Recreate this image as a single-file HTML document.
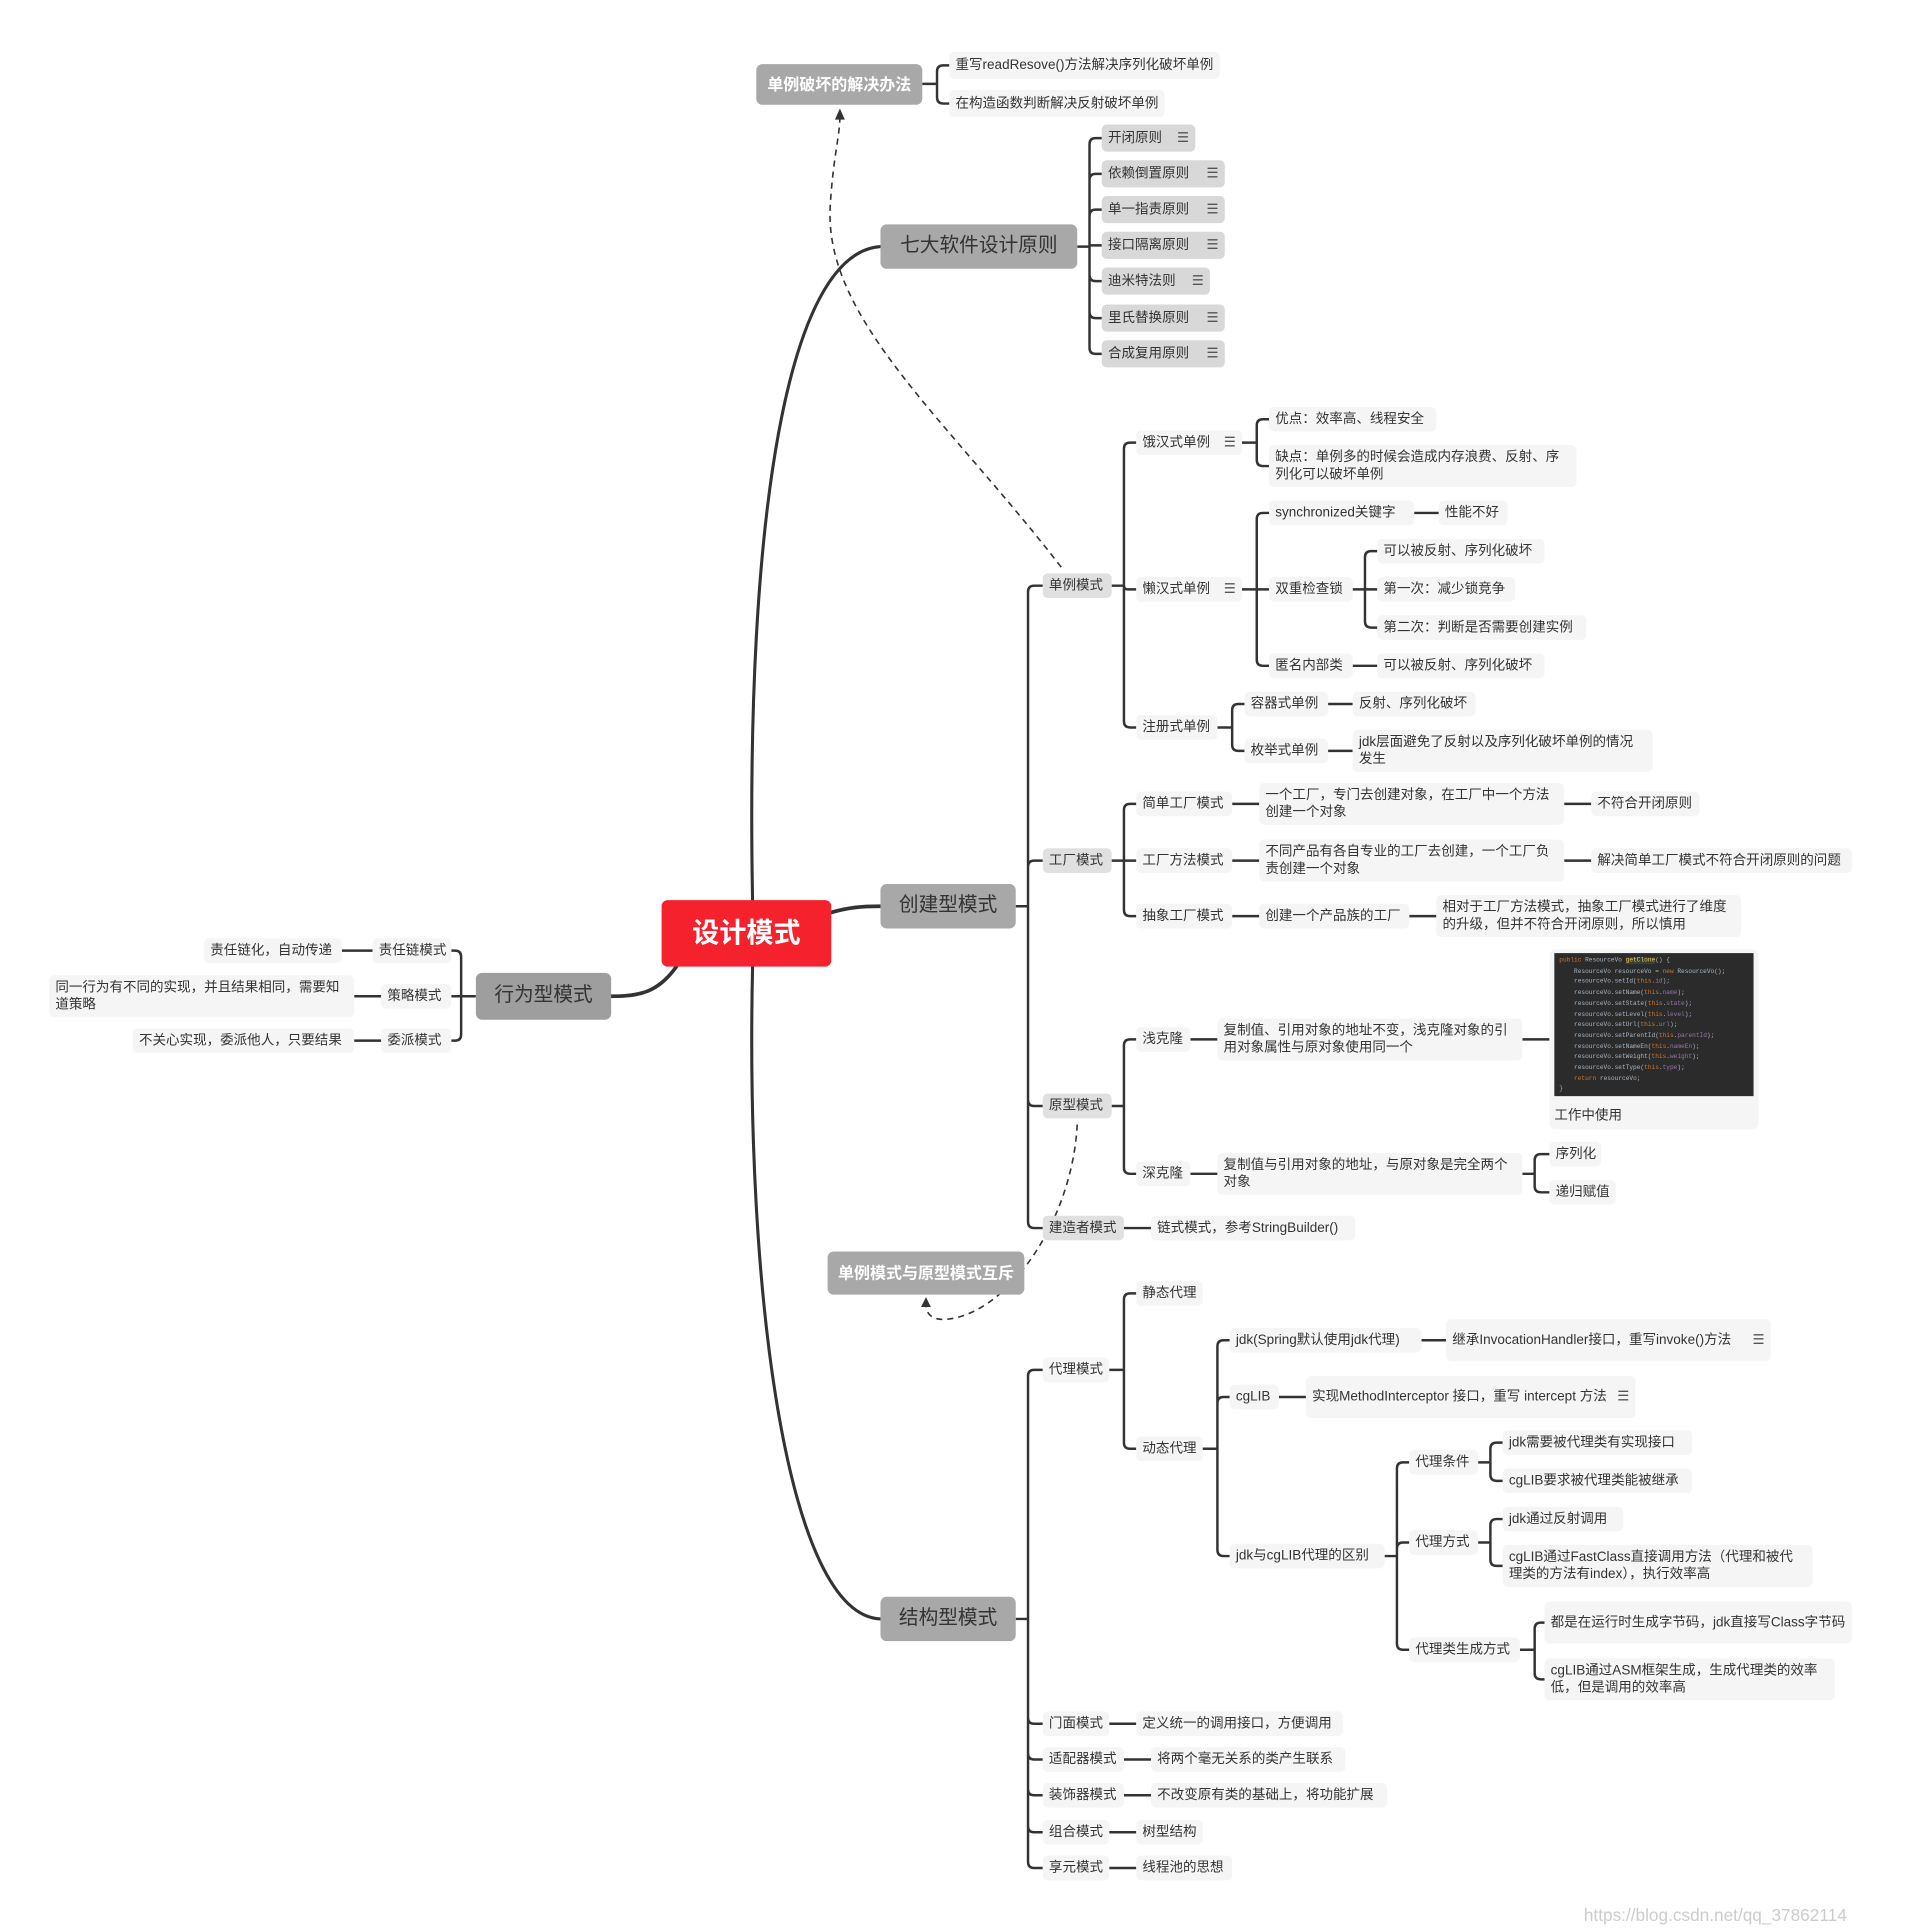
<!DOCTYPE html>
<html><head><meta charset="utf-8"><style>
html,body{margin:0;padding:0;background:#fff;}
#root{position:absolute;left:0;top:0;width:1550px;height:1566px;transform-origin:0 0;transform:scale(1.2297,1.2330);font-family:"Liberation Sans","Noto Sans CJK SC",sans-serif;}
.n{position:absolute;display:flex;align-items:center;padding:0 5px;font-size:11px;color:#333;border-radius:4px;box-sizing:border-box;line-height:14px;white-space:nowrap;}
.l{background:#f5f5f5}
.m{background:#e0e0e0}
.p{background:#d8d8d8}
.w{white-space:normal}
.big{background:#a8a8a8;color:#333;font-size:16px;justify-content:center;border-radius:5px}
.hb{background:#a8a8a8;color:#fff;font-weight:bold;font-size:13px;justify-content:center;border-radius:5px}
.ic{margin-left:auto;padding-left:6px;font-size:11px;color:#555}
.code{position:absolute;background:#2b2b2b;font-family:"Liberation Mono",monospace;font-size:5px;line-height:8.7px;color:#a9b7c6;padding:2px 4px;box-sizing:border-box;white-space:pre;overflow:hidden}
.k{color:#cc7832}.f{color:#ffc66d;background:#344134}.v{color:#9876aa}
</style></head><body><div id="root">
<svg id="sv" width="1550" height="1566" style="position:absolute;left:0;top:0">
<g fill="none" stroke="#333" stroke-linecap="round">
<path d="M612,730 C606,420 640,205 716,200" stroke-width="2.5"/>
<path d="M612,784 C606,1050 640,1310 716,1313" stroke-width="2.5"/>
<path d="M676,740 C690,736 700,735 716,735" stroke-width="3"/>
<path d="M550,784 C535,805 520,808 497,808" stroke-width="3"/>
</g>
<g fill="none" stroke="#333" stroke-width="1.3" stroke-dasharray="5,4">
<path d="M863,460 C770,340 672,260 675,170 C677,130 683,110 683,95"/>
<path d="M876,912 C872,990 820,1065 770,1070 C756,1071 753,1064 753,1058"/>
</g>
<path d="M679,97 L683,88 L687,97 Z" fill="#333"/>
<path d="M749,1060 L753,1052 L757,1060 Z" fill="#333"/>
<g id="br" fill="none" stroke="#333" stroke-width="2"></g>
</svg>

<div class="n hb" style="left:615px;top:52px;width:135px;height:33px">单例破坏的解决办法</div>
<div class="n l" style="left:772px;top:42px;height:22px">重写readResove()方法解决序列化破坏单例</div>
<div class="n l" style="left:772px;top:73px;height:22px">在构造函数判断解决反射破坏单例</div>

<div class="n big" style="left:716px;top:182px;width:160px;height:36px">七大软件设计原则</div>
<div class="n p" style="left:896px;top:101px;width:76px;height:22px">开闭原则<span class="ic">☰</span></div>
<div class="n p" style="left:896px;top:130px;width:100px;height:22px">依赖倒置原则<span class="ic">☰</span></div>
<div class="n p" style="left:896px;top:159px;width:100px;height:22px">单一指责原则<span class="ic">☰</span></div>
<div class="n p" style="left:896px;top:188px;width:100px;height:22px">接口隔离原则<span class="ic">☰</span></div>
<div class="n p" style="left:896px;top:217px;width:88px;height:22px">迪米特法则<span class="ic">☰</span></div>
<div class="n p" style="left:896px;top:247px;width:100px;height:22px">里氏替换原则<span class="ic">☰</span></div>
<div class="n p" style="left:896px;top:276px;width:100px;height:22px">合成复用原则<span class="ic">☰</span></div>

<div class="n" style="left:538px;top:730px;width:138px;height:54px;background:#f5222d;color:#fff;font-weight:bold;font-size:22px;justify-content:center;border-radius:5px">设计模式</div>

<div class="n big" style="left:387px;top:789px;width:110px;height:38px;background:#9e9e9e">行为型模式</div>
<div class="n l" style="left:303px;top:761px;width:64px;height:20px">责任链模式</div>
<div class="n l" style="left:310px;top:798px;width:57px;height:20px">策略模式</div>
<div class="n l" style="left:310px;top:834px;width:57px;height:20px">委派模式</div>
<div class="n l" style="left:166px;top:761px;width:112px;height:20px">责任链化，自动传递</div>
<div class="n l w" style="left:40px;top:791px;width:248px;height:34px">同一行为有不同的实现，并且结果相同，需要知道策略</div>
<div class="n l" style="left:108px;top:834px;width:180px;height:20px">不关心实现，委派他人，只要结果</div>

<div class="n big" style="left:716px;top:717px;width:110px;height:36px">创建型模式</div>
<div class="n big" style="left:716px;top:1295px;width:110px;height:36px">结构型模式</div>

<div class="n m" style="left:848px;top:465px;width:56px;height:20px">单例模式</div>
<div class="n m" style="left:848px;top:688px;width:56px;height:20px">工厂模式</div>
<div class="n m" style="left:848px;top:887px;width:56px;height:20px">原型模式</div>
<div class="n m" style="left:848px;top:986px;width:66px;height:20px">建造者模式</div>

<div class="n l" style="left:924px;top:349px;width:86px;height:20px">饿汉式单例<span class="ic">☰</span></div>
<div class="n l" style="left:924px;top:468px;width:86px;height:20px">懒汉式单例<span class="ic">☰</span></div>
<div class="n l" style="left:924px;top:580px;width:66px;height:20px">注册式单例</div>
<div class="n l" style="left:1032px;top:330px;width:136px;height:20px">优点：效率高、线程安全</div>
<div class="n l w" style="left:1032px;top:361px;width:250px;height:34px">缺点：单例多的时候会造成内存浪费、反射、序列化可以破坏单例</div>
<div class="n l" style="left:1032px;top:406px;width:118px;height:20px">synchronized关键字</div>
<div class="n l" style="left:1170px;top:406px;width:56px;height:20px">性能不好</div>
<div class="n l" style="left:1032px;top:468px;width:68px;height:20px">双重检查锁</div>
<div class="n l" style="left:1120px;top:437px;width:136px;height:20px">可以被反射、序列化破坏</div>
<div class="n l" style="left:1120px;top:468px;width:112px;height:20px">第一次：减少锁竞争</div>
<div class="n l" style="left:1120px;top:499px;width:170px;height:20px">第二次：判断是否需要创建实例</div>
<div class="n l" style="left:1032px;top:530px;width:68px;height:20px">匿名内部类</div>
<div class="n l" style="left:1120px;top:530px;width:136px;height:20px">可以被反射、序列化破坏</div>
<div class="n l" style="left:1012px;top:561px;width:68px;height:20px">容器式单例</div>
<div class="n l" style="left:1100px;top:561px;width:100px;height:20px">反射、序列化破坏</div>
<div class="n l" style="left:1012px;top:599px;width:68px;height:20px">枚举式单例</div>
<div class="n l w" style="left:1100px;top:592px;width:244px;height:34px">jdk层面避免了反射以及序列化破坏单例的情况发生</div>

<div class="n l" style="left:924px;top:642px;width:78px;height:20px">简单工厂模式</div>
<div class="n l" style="left:924px;top:688px;width:78px;height:20px">工厂方法模式</div>
<div class="n l" style="left:924px;top:733px;width:78px;height:20px">抽象工厂模式</div>
<div class="n l w" style="left:1024px;top:635px;width:248px;height:34px">一个工厂，专门去创建对象，在工厂中一个方法创建一个对象</div>
<div class="n l" style="left:1294px;top:642px;width:88px;height:20px">不符合开闭原则</div>
<div class="n l w" style="left:1024px;top:681px;width:248px;height:34px">不同产品有各自专业的工厂去创建，一个工厂负责创建一个对象</div>
<div class="n l" style="left:1294px;top:688px;width:212px;height:20px">解决简单工厂模式不符合开闭原则的问题</div>
<div class="n l" style="left:1024px;top:733px;width:122px;height:20px">创建一个产品族的工厂</div>
<div class="n l w" style="left:1168px;top:726px;width:248px;height:34px">相对于工厂方法模式，抽象工厂模式进行了维度的升级，但并不符合开闭原则，所以慎用</div>

<div class="n l" style="left:924px;top:833px;width:44px;height:20px">浅克隆</div>
<div class="n l" style="left:924px;top:942px;width:44px;height:20px">深克隆</div>
<div class="n l w" style="left:990px;top:826px;width:248px;height:34px">复制值、引用对象的地址不变，浅克隆对象的引用对象属性与原对象使用同一个</div>
<div class="n l w" style="left:990px;top:935px;width:248px;height:34px">复制值与引用对象的地址，与原对象是完全两个对象</div>
<div class="n l" style="left:1260px;top:770px;width:170px;height:146px;border-radius:5px"></div>
<div class="code" style="left:1264px;top:773px;width:162px;height:116px"><span class="k">public</span> ResourceVo <span class="f">getClone</span>() {
    ResourceVo resourceVo = <span class="k">new</span> ResourceVo();
    resourceVo.setId(<span class="k">this</span>.<span class="v">id</span>);
    resourceVo.setName(<span class="k">this</span>.<span class="v">name</span>);
    resourceVo.setState(<span class="k">this</span>.<span class="v">state</span>);
    resourceVo.setLevel(<span class="k">this</span>.<span class="v">level</span>);
    resourceVo.setUrl(<span class="k">this</span>.<span class="v">url</span>);
    resourceVo.setParentId(<span class="k">this</span>.<span class="v">parentId</span>);
    resourceVo.setNameEn(<span class="k">this</span>.<span class="v">nameEn</span>);
    resourceVo.setWeight(<span class="k">this</span>.<span class="v">weight</span>);
    resourceVo.setType(<span class="k">this</span>.<span class="v">type</span>);
    <span class="k">return</span> resourceVo;
}</div>
<div class="n" style="left:1259px;top:896px;height:18px">工作中使用</div>
<div class="n l" style="left:1260px;top:926px;width:42px;height:20px">序列化</div>
<div class="n l" style="left:1260px;top:957px;width:54px;height:20px">递归赋值</div>
<div class="n l" style="left:936px;top:986px;width:166px;height:20px">链式模式，参考StringBuilder()</div>

<div class="n hb" style="left:673px;top:1015px;width:160px;height:35px">单例模式与原型模式互斥</div>

<div class="n l" style="left:848px;top:1101px;width:54px;height:20px">代理模式</div>
<div class="n l" style="left:848px;top:1388px;width:54px;height:20px">门面模式</div>
<div class="n l" style="left:848px;top:1417px;width:66px;height:20px">适配器模式</div>
<div class="n l" style="left:848px;top:1446px;width:66px;height:20px">装饰器模式</div>
<div class="n l" style="left:848px;top:1476px;width:54px;height:20px">组合模式</div>
<div class="n l" style="left:848px;top:1505px;width:54px;height:20px">享元模式</div>
<div class="n l" style="left:924px;top:1388px;width:168px;height:20px">定义统一的调用接口，方便调用</div>
<div class="n l" style="left:936px;top:1417px;width:158px;height:20px">将两个毫无关系的类产生联系</div>
<div class="n l" style="left:936px;top:1446px;width:192px;height:20px">不改变原有类的基础上，将功能扩展</div>
<div class="n l" style="left:924px;top:1476px;width:54px;height:20px">树型结构</div>
<div class="n l" style="left:924px;top:1505px;width:78px;height:20px">线程池的思想</div>

<div class="n l" style="left:924px;top:1039px;width:54px;height:20px">静态代理</div>
<div class="n l" style="left:924px;top:1165px;width:54px;height:20px">动态代理</div>
<div class="n l" style="left:1000px;top:1077px;width:156px;height:20px">jdk(Spring默认使用jdk代理)</div>
<div class="n l w" style="left:1176px;top:1070px;width:264px;height:34px"><span style="width:238px">继承InvocationHandler接口，重写invoke()方法</span><span class="ic">☰</span></div>
<div class="n l" style="left:1000px;top:1123px;width:40px;height:20px">cgLIB</div>
<div class="n l w" style="left:1062px;top:1116px;width:268px;height:34px"><span style="width:242px">实现MethodInterceptor 接口，重写 intercept 方法</span><span class="ic">☰</span></div>
<div class="n l" style="left:1000px;top:1252px;width:126px;height:20px">jdk与cgLIB代理的区别</div>
<div class="n l" style="left:1146px;top:1176px;width:56px;height:20px">代理条件</div>
<div class="n l" style="left:1146px;top:1241px;width:56px;height:20px">代理方式</div>
<div class="n l" style="left:1146px;top:1328px;width:90px;height:20px">代理类生成方式</div>
<div class="n l" style="left:1222px;top:1160px;width:154px;height:20px">jdk需要被代理类有实现接口</div>
<div class="n l" style="left:1222px;top:1191px;width:154px;height:20px">cgLIB要求被代理类能被继承</div>
<div class="n l" style="left:1222px;top:1222px;width:98px;height:20px">jdk通过反射调用</div>
<div class="n l w" style="left:1222px;top:1253px;width:252px;height:34px">cgLIB通过FastClass直接调用方法（代理和被代理类的方法有index），执行效率高</div>
<div class="n l w" style="left:1256px;top:1299px;width:250px;height:34px">都是在运行时生成字节码，jdk直接写Class字节码</div>
<div class="n l w" style="left:1256px;top:1345px;width:236px;height:34px">cgLIB通过ASM框架生成，生成代理类的效率低，但是调用的效率高</div>

<div style="position:absolute;left:1288px;top:1545px;font-size:14px;color:#ccc">https://blog.csdn.net/qq_37862114</div>
</div>
<script>
var B=[
[750,68,762,[53,84],772],
[876,200,886,[112,141,170,199,228,258,287],896],
[387,808,375,[771,808,844],367],
[303,771,303,[771],278],[310,808,310,[808],288],[310,844,310,[844],288],
[826,735,836,[475,698,897,996],848],
[904,475,914,[359,478,590],924],
[1010,359,1022,[340,378],1032],
[1010,478,1022,[416,478,540],1032],
[1150,416,1150,[416],1170],
[1100,478,1110,[447,478,509],1120],
[1100,540,1100,[540],1120],
[990,590,1002,[571,609],1012],
[1080,571,1080,[571],1100],[1080,609,1080,[609],1100],
[904,698,914,[652,698,743],924],
[1002,652,1002,[652],1024],[1272,652,1272,[652],1294],
[1002,698,1002,[698],1024],[1272,698,1272,[698],1294],
[1002,743,1002,[743],1024],[1146,743,1146,[743],1168],
[904,897,914,[843,952],924],
[968,843,968,[843],990],[1238,843,1238,[843],1260],
[968,952,968,[952],990],
[1238,952,1248,[936,967],1260],
[914,996,914,[996],936],
[826,1313,836,[1111,1398,1427,1456,1486,1515],848],
[902,1398,902,[1398],924],[914,1427,914,[1427],936],[914,1456,914,[1456],936],[902,1486,902,[1486],924],[902,1515,902,[1515],924],
[902,1111,914,[1049,1175],924],
[978,1175,990,[1087,1133,1262],1000],
[1156,1087,1156,[1087],1176],[1040,1133,1040,[1133],1062],
[1126,1262,1136,[1186,1251,1338],1146],
[1202,1186,1212,[1170,1201],1222],
[1202,1251,1212,[1232,1270],1222],
[1236,1338,1248,[1316,1362],1256]
];
var d='';
B.forEach(function(b){
 var px=b[0],py=b[1],bx=b[2],ys=b[3],cx=b[4];
 d+='M'+px+','+py+'L'+bx+','+py;
 var dir=cx>bx?1:-1;
 ys.forEach(function(y){
  var r=Math.min(5,Math.abs(y-py));
  if(r<1){d+='M'+bx+','+y+'L'+cx+','+y;return;}
  var s=y>py?1:-1;
  d+='M'+bx+','+py+'L'+bx+','+(y-s*r)+'Q'+bx+','+y+' '+(bx+dir*r)+','+y+'L'+cx+','+y;
 });
});
var p=document.createElementNS('http://www.w3.org/2000/svg','path');
p.setAttribute('d',d);
document.getElementById('br').appendChild(p);
</script>
</body></html>
